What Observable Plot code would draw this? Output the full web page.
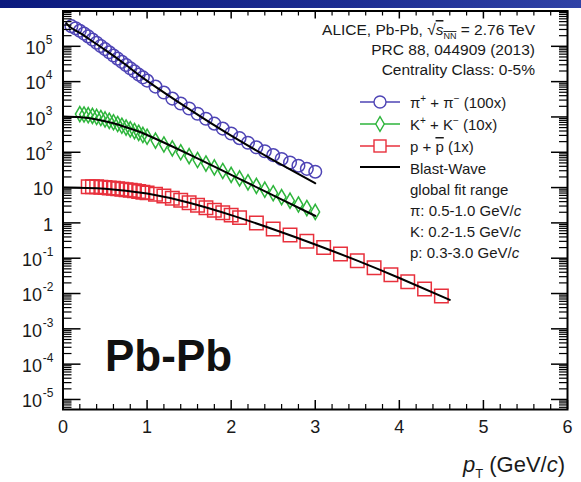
<!DOCTYPE html>
<html><head><meta charset="utf-8">
<script src="https://cdn.jsdelivr.net/npm/d3@7"></script>
<script src="https://cdn.jsdelivr.net/npm/@observablehq/plot@0.6"></script>
<style>
body{margin:0;background:#fff;}
#wrap{position:relative;width:581px;height:482px;overflow:hidden;}
#band{position:absolute;left:0;top:0;width:581px;height:8px;background:linear-gradient(to right,#0b1a7e,#1d2d92 60%,#3042a6);z-index:2;}
</style></head><body><div id="wrap"><div id="band"></div></div>
<script>
// ---- data ----
const pionPt = [0.10,0.15,0.20,0.25,0.30,0.35,0.40,0.45,0.50,0.55,0.60,0.65,0.70,0.75,0.80,0.85,0.90,0.95,1.00,1.10,1.20,1.30,1.40,1.50,1.60,1.70,1.80,1.90,2.00,2.10,2.20,2.30,2.40,2.50,2.60,2.70,2.80,2.90,3.00];
const pionYield = [3.72e5,3.24e5,2.75e5,2.29e5,1.91e5,1.55e5,1.26e5,1.02e5,8.32e4,6.76e4,5.50e4,4.47e4,3.63e4,2.95e4,2.40e4,1.95e4,1.58e4,1.32e4,1.07e4,7.24e3,4.90e3,3.31e3,2.40e3,1.74e3,1.23e3,891,646,468,339,251,186,138,107,83.2,64.6,51.3,41.7,33.9,28.2];
const kaonPt = [0.20,0.25,0.30,0.35,0.40,0.45,0.50,0.55,0.60,0.65,0.70,0.75,0.80,0.85,0.90,0.95,1.00,1.10,1.20,1.30,1.40,1.50,1.60,1.70,1.80,1.90,2.00,2.10,2.20,2.30,2.40,2.50,2.60,2.70,2.80,2.90,3.00];
const kaonYield = [1202,1175,1122,1072,1000,933,851,776,708,631,562,501,447,398,355,309,275,214,166,129,100,77.6,60.3,47.9,37.2,29.5,22.9,18.2,14.1,11.2,8.71,6.92,5.37,4.27,3.31,2.63,2.04];
const protonPt = [0.30,0.35,0.40,0.45,0.50,0.55,0.60,0.65,0.70,0.75,0.80,0.85,0.90,0.95,1.00,1.10,1.20,1.30,1.40,1.50,1.60,1.70,1.80,1.90,2.00,2.10,2.30,2.50,2.70,2.90,3.10,3.30,3.50,3.70,3.90,4.10,4.30,4.50];
const protonYield = [10.5,10.5,10.5,10.2,10.0,9.77,9.55,9.33,9.02,8.71,8.41,8.13,7.76,7.41,7.08,6.46,5.75,5.01,4.37,3.72,3.16,2.69,2.29,1.95,1.66,1.41,1.00,0.676,0.457,0.302,0.200,0.132,0.0851,0.0537,0.0339,0.0214,0.0135,0.00851];
// Blast-Wave curves
const bwPionPt = [0.04,0.1,0.2,0.3,0.5,0.75,1.0,1.5,2.0,2.5,3.0];
const bwPionY = [4.47e5,3.31e5,2.40e5,1.66e5,7.94e4,2.95e4,1.05e4,1.66e3,295,60.3,13.2];
const bwKaonPt = [0,0.2,0.4,0.6,0.8,1.0,1.5,2.0,2.5,3.0];
const bwKaonY = [1023,977,851,661,468,309,87.1,22.9,6.03,1.58];
const bwProtonPt = [0,0.5,1.0,1.5,2.0,2.5,3.0,3.5,4.0,4.6];
const bwProtonY = [10,9.33,6.76,3.72,1.66,0.661,0.245,0.0851,0.0275,0.00661];
// axes
const xTicks = [0,1,2,3,4,5,6];
const yPlainLabels = [{v:10,t:"10"},{v:1,t:"1"}];
const yPosExp = [2,3,4,5];
const yNegExp = [-1,-2,-3,-4,-5];

const colPion = "#4e44b5", colKaon = "#2db53b", colProton = "#e8303c";
const font = "'Liberation Sans', Arial, Helvetica, sans-serif";

const W = 581, H = 482;
const mL = 62.5, mR = 14, mT = 10.5, mB = 73;
const iw = W - mL - mR, ih = H - mT - mB;

const zip = (xs, ys) => xs.map((x, i) => ({x, y: ys[i]}));
const pions = zip(pionPt, pionYield), kaons = zip(kaonPt, kaonYield), protons = zip(protonPt, protonYield);
const bwP = zip(bwPionPt, bwPionY), bwK = zip(bwKaonPt, bwKaonY), bwPr = zip(bwProtonPt, bwProtonY);

const yMajor = d3.range(-5, 7).map(e => Math.pow(10, e));
const yMinor = [];
for (let e = -6; e <= 5; e++) for (let k = 2; k <= 9; k++) { const v = k * Math.pow(10, e); if (v > 5.2e-6 && v < 1e6) yMinor.push(v); }
const xMinor = d3.range(0, 30).map(i => i * 0.2).filter(v => Math.abs(v - Math.round(v)) > 1e-6);

const chart = Plot.plot({
  width: W, height: H, marginLeft: mL, marginRight: mR, marginTop: mT, marginBottom: mB,
  style: {fontFamily: font, background: "white", color: "#1a1a1a"},
  x: {domain: [0, 6], axis: null},
  y: {type: "log", domain: [5.2e-6, 1e6], axis: null},
  marks: [
    Plot.dot(protons, {x: "x", y: "y", symbol: "square", r: 7.6, stroke: colProton, strokeWidth: 1.5, fill: "none"}),
    Plot.dot(kaons, {x: "x", y: "y", symbol: "diamond", r: 4.6, stroke: colKaon, strokeWidth: 1.5, fill: "none"}),
    Plot.dot(pions, {x: "x", y: "y", symbol: "circle", r: 6.3, stroke: colPion, strokeWidth: 1.5, fill: "none"}),
    Plot.line(bwPr, {x: "x", y: "y", curve: "natural", stroke: "black", strokeWidth: 2}),
    Plot.line(bwK, {x: "x", y: "y", curve: "natural", stroke: "black", strokeWidth: 2}),
    Plot.line(bwP, {x: "x", y: "y", curve: "natural", stroke: "black", strokeWidth: 2}),
    // ticks (inward, ROOT style)
    Plot.tickY(yMajor, {y: d => d, insetRight: iw - 18, stroke: "black", strokeWidth: 1.5}),
    Plot.tickY(yMinor, {y: d => d, insetRight: iw - 9, stroke: "black", strokeWidth: 1.2}),
    Plot.tickY(yMajor, {y: d => d, insetLeft: iw - 16, stroke: "black", strokeWidth: 1.5}),
    Plot.tickY(yMinor, {y: d => d, insetLeft: iw - 8, stroke: "black", strokeWidth: 1.2}),
    Plot.tickX(xTicks, {x: d => d, insetTop: ih - 9, stroke: "black", strokeWidth: 1.5}),
    Plot.tickX(xMinor, {x: d => d, insetTop: ih - 5, stroke: "black", strokeWidth: 1.2}),
    Plot.tickX(xTicks, {x: d => d, insetBottom: ih - 8, stroke: "black", strokeWidth: 1.5}),
    Plot.tickX(xMinor, {x: d => d, insetBottom: ih - 5, stroke: "black", strokeWidth: 1.2}),
    Plot.frame({stroke: "black", strokeWidth: 2}),
    // x tick labels
    Plot.text(xTicks, {x: d => d, frameAnchor: "bottom", dy: 23, text: d => String(d), fontSize: 18, fill: "#1a1a1a"}),
    // y tick labels
    Plot.text(yPlainLabels, {y: "v", text: "t", frameAnchor: "left", textAnchor: "end", dx: -10, dy: 2, fontSize: 18, fill: "#1a1a1a"}),
    Plot.text(yPosExp, {y: d => Math.pow(10, d), text: () => "10", frameAnchor: "left", textAnchor: "end", dx: -17.5, dy: 2, fontSize: 18, fill: "#1a1a1a"}),
    Plot.text(yPosExp, {y: d => Math.pow(10, d), text: d => String(d), frameAnchor: "left", textAnchor: "end", dx: -10.5, dy: -6, fontSize: 12, fill: "#1a1a1a"}),
    Plot.text(yNegExp, {y: d => Math.pow(10, d), text: () => "10", frameAnchor: "left", textAnchor: "end", dx: -21, dy: 2, fontSize: 18, fill: "#1a1a1a"}),
    Plot.text(yNegExp, {y: d => Math.pow(10, d), text: d => String(d), frameAnchor: "left", textAnchor: "end", dx: -9.5, dy: -6, fontSize: 12, fill: "#1a1a1a"})
  ]
});

document.getElementById("wrap").insertBefore(chart, document.getElementById("band"));

// ---- annotations & legend ----
const svg = d3.select(chart);
const g = svg.append("g").attr("font-family", font).attr("fill", "#1a1a1a");
function addText(x, y, parts, size = 15, anchor = "start", weight = "normal") {
  const t = g.append("text").attr("x", x).attr("y", y).attr("font-size", size).attr("text-anchor", anchor).attr("font-weight", weight);
  for (const p of parts) {
    const s = t.append("tspan").text(p.t);
    if (p.dy) s.attr("dy", p.dy);
    if (p.size) s.attr("font-size", p.size);
    if (p.italic) s.attr("font-style", "italic");
    if (p.over) s.attr("text-decoration", "overline");
  }
  return t;
}
addText(535, 35, [{t: "ALICE, Pb-Pb, \u221A"}, {t: "s", italic: true, over: true}, {t: "NN", size: 9, dy: 4, over: true}, {t: " = 2.76 TeV", dy: -4}], 15.5, "end");
addText(535, 55, [{t: "PRC 88, 044909 (2013)"}], 15.5, "end");
addText(535, 75, [{t: "Centrality Class: 0-5%"}], 15.5, "end");

const lx = 410;
addText(lx, 108, [{t: "\u03C0"}, {t: "+", size: 10, dy: -6}, {t: " + \u03C0", dy: 6}, {t: "\u2212", size: 10, dy: -6}, {t: " (100x)", dy: 6}], 15);
addText(lx, 130, [{t: "K"}, {t: "+", size: 10, dy: -6}, {t: " + K", dy: 6}, {t: "\u2212", size: 10, dy: -6}, {t: " (10x)", dy: 6}], 15);
addText(lx, 152, [{t: "p + "}, {t: "p", over: true}, {t: " (1x)"}], 15);
addText(lx, 174, [{t: "Blast-Wave"}], 15);
addText(lx, 195, [{t: "global fit range"}], 15);
addText(lx, 216, [{t: "\u03C0: 0.5-1.0 GeV/"}, {t: "c", italic: true}], 15);
addText(lx, 237, [{t: "K: 0.2-1.5 GeV/"}, {t: "c", italic: true}], 15);
addText(lx, 258, [{t: "p: 0.3-3.0 GeV/"}, {t: "c", italic: true}], 15);

const lg = svg.append("g").attr("fill", "none").attr("stroke-width", 1.4);
lg.append("line").attr("x1", 360).attr("x2", 400).attr("y1", 102).attr("y2", 102).attr("stroke", colPion);
lg.append("circle").attr("cx", 380).attr("cy", 102).attr("r", 6).attr("stroke", colPion).attr("fill", "white");
lg.append("line").attr("x1", 360).attr("x2", 400).attr("y1", 124).attr("y2", 124).attr("stroke", colKaon);
lg.append("path").attr("d", d3.symbol(d3.symbolDiamond, Math.PI * 20)()).attr("transform", "translate(380,124)").attr("stroke", colKaon).attr("fill", "white");
lg.append("line").attr("x1", 360).attr("x2", 400).attr("y1", 146).attr("y2", 146).attr("stroke", colProton);
lg.append("rect").attr("x", 374).attr("y", 140).attr("width", 12).attr("height", 12).attr("stroke", colProton).attr("fill", "white");
lg.append("line").attr("x1", 360).attr("x2", 400).attr("y1", 167).attr("y2", 167).attr("stroke", "black").attr("stroke-width", 2);

// Big label and axis title
addText(105, 371, [{t: "Pb-Pb"}], 44, "start", "bold").attr("fill", "#111");
addText(565, 472, [{t: "p", italic: true}, {t: "T", size: 13, dy: 6}, {t: " (GeV/", dy: -6}, {t: "c", italic: true}, {t: ")"}], 22, "end");
</script>
</body></html>
